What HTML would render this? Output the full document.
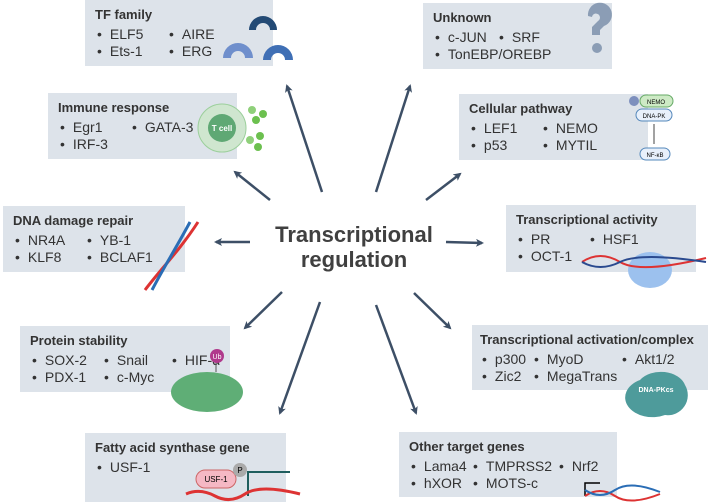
<!DOCTYPE html>
<html><head><meta charset="utf-8"><style>
body{margin:0;width:708px;height:502px;background:#fff;position:relative;overflow:hidden;font-family:"Liberation Sans",sans-serif;color:#333}
.b{position:absolute;background:#dde3ea;box-sizing:border-box;padding:7px 10px}
.h{font-weight:bold;font-size:13px;margin-bottom:4px;color:#333;white-space:nowrap}
.r{font-size:14px;line-height:17px;white-space:nowrap}
.r span{display:inline-block}
.r span:before{content:"•";margin-right:8px;margin-left:2px}
svg{position:absolute;left:0;top:0}
.t{position:absolute;left:237px;top:222px;width:234px;text-align:center;font-weight:bold;font-size:22px;line-height:25px;color:#404040}
</style></head><body>
<div class="b" style="left:85px;top:0;width:188px;height:66px">
<div class="h">TF family</div>
<div class="r"><span style="width:72px">ELF5</span><span>AIRE</span></div>
<div class="r"><span style="width:72px">Ets-1</span><span>ERG</span></div></div>
<div class="b" style="left:48px;top:93px;width:189px;height:66px">
<div class="h">Immune response</div>
<div class="r"><span style="width:72px">Egr1</span><span>GATA-3</span></div>
<div class="r"><span>IRF-3</span></div></div>
<div class="b" style="left:3px;top:206px;width:182px;height:66px">
<div class="h">DNA damage repair</div>
<div class="r"><span style="width:72px">NR4A</span><span>YB-1</span></div>
<div class="r"><span style="width:72px">KLF8</span><span>BCLAF1</span></div></div>
<div class="b" style="left:20px;top:326px;width:210px;height:66px">
<div class="h">Protein stability</div>
<div class="r"><span style="width:72px">SOX-2</span><span style="width:68px">Snail</span><span>HIF-α</span></div>
<div class="r"><span style="width:72px">PDX-1</span><span>c-Myc</span></div></div>
<div class="b" style="left:85px;top:433px;width:201px;height:69px">
<div class="h">Fatty acid synthase gene</div>
<div class="r"><span>USF-1</span></div></div>
<div class="b" style="left:423px;top:3px;width:189px;height:66px">
<div class="h">Unknown</div>
<div class="r"><span style="width:64px">c-JUN</span><span>SRF</span></div>
<div class="r"><span>TonEBP/OREBP</span></div></div>
<div class="b" style="left:459px;top:94px;width:189px;height:66px">
<div class="h">Cellular pathway</div>
<div class="r"><span style="width:72px">LEF1</span><span>NEMO</span></div>
<div class="r"><span style="width:72px">p53</span><span>MYTIL</span></div></div>
<div class="b" style="left:506px;top:205px;width:190px;height:67px">
<div class="h">Transcriptional activity</div>
<div class="r"><span style="width:72px">PR</span><span>HSF1</span></div>
<div class="r"><span>OCT-1</span></div></div>
<div class="b" style="left:472px;top:325px;width:236px;height:65px;padding-left:8px">
<div class="h">Transcriptional activation/complex</div>
<div class="r"><span style="width:52px">p300</span><span style="width:88px">MyoD</span><span>Akt1/2</span></div>
<div class="r"><span style="width:52px">Zic2</span><span>MegaTrans</span></div></div>
<div class="b" style="left:399px;top:432px;width:218px;height:65px">
<div class="h">Other target genes</div>
<div class="r"><span style="width:62px">Lama4</span><span style="width:86px">TMPRSS2</span><span>Nrf2</span></div>
<div class="r"><span style="width:62px">hXOR</span><span>MOTS-c</span></div></div>
<div class="t">Transcriptional<br>regulation</div>
<svg width="708" height="502">
<defs><marker id="a" markerWidth="8" markerHeight="8" refX="6" refY="4" orient="auto" markerUnits="userSpaceOnUse"><path d="M0,0 L8,4 L0,8 L2,4z" fill="#3d4f66"/></marker></defs>
<g stroke="#3d4f66" stroke-width="2.5" fill="none" marker-end="url(#a)">
<line x1="322" y1="192" x2="287" y2="86"/>
<line x1="270" y1="200" x2="235" y2="172"/>
<line x1="250" y1="242" x2="216" y2="242"/>
<line x1="282" y1="292" x2="245" y2="328"/>
<line x1="320" y1="302" x2="280" y2="413"/>
<line x1="376" y1="192" x2="410" y2="86"/>
<line x1="426" y1="200" x2="460" y2="174"/>
<line x1="446" y1="242" x2="482" y2="243"/>
<line x1="414" y1="293" x2="450" y2="328"/>
<line x1="376" y1="305" x2="416" y2="413"/>
</g>
<g>
<path d="M249,30 a14,14 0 0 1 28,0 l-7,0 a7,7 0 0 0 -14,0z" fill="#234a75"/>
<path d="M223,58 a15,15 0 0 1 30,0 l-8,0 a7,7 0 0 0 -14,0z" fill="#6f8fcc"/>
<path d="M263,60 a15,15 0 0 1 30,0 l-8,0 a7,7 0 0 0 -14,0z" fill="#3f6fb5"/>
<circle cx="222" cy="128" r="24" fill="#cfe6cf" stroke="#9bcf9b"/>
<circle cx="222" cy="128" r="14" fill="#5fa874"/>
<text x="222" y="131" font-size="8" fill="#fff" text-anchor="middle" font-weight="bold" font-family="Liberation Sans">T cell</text>
<circle cx="252" cy="110" r="4" fill="#8fd07a"/><circle cx="263" cy="114" r="4" fill="#6cc04f"/><circle cx="256" cy="120" r="4" fill="#6cc04f"/>
<circle cx="260" cy="136" r="4" fill="#6cc04f"/><circle cx="250" cy="140" r="4" fill="#8fd07a"/><circle cx="258" cy="147" r="4" fill="#6cc04f"/>
<path d="M145,290 C160,270 180,250 198,222" stroke="#d33" stroke-width="3" fill="none"/>
<path d="M152,290 C165,265 175,250 190,222" stroke="#2a6db5" stroke-width="3" fill="none"/>
<ellipse cx="207" cy="392" rx="36" ry="20" fill="#5fae76"/>
<line x1="216" y1="372" x2="216" y2="360" stroke="#555"/>
<circle cx="217" cy="356" r="7" fill="#b03a8c"/>
<text x="217" y="359" font-size="7" fill="#fff" text-anchor="middle" font-family="Liberation Sans">Ub</text>
<rect x="196" y="470" width="40" height="18" rx="9" fill="#f5b8c4" stroke="#c66"/>
<text x="216" y="482" font-size="8" text-anchor="middle" font-family="Liberation Sans">USF-1</text>
<circle cx="240" cy="470" r="7" fill="#aaa"/><text x="240" y="473" font-size="8" text-anchor="middle" font-family="Liberation Sans">P</text>
<path d="M248,496 L248,472 L290,472" stroke="#1f5e5e" stroke-width="2" fill="none"/>
<path d="M186,494 Q200,488 215,496 T245,494 T300,494" stroke="#d33" stroke-width="3" fill="none"/>
<path d="M588,16 a12,12 0 1 1 16,10 l-4,4 v5 h-8 v-8 l6,-6 a4,4 0 1 0 -6,-4z" fill="#8b9db5"/>
<circle cx="597" cy="48" r="5" fill="#8b9db5"/>
<ellipse cx="650" cy="270" rx="22" ry="18" fill="#9cc1ee"/>
<path d="M582,262 Q600,250 620,262 T706,258" stroke="#d33" stroke-width="2" fill="none"/>
<path d="M582,262 Q600,272 620,262 T706,262" stroke="#2a4a8f" stroke-width="2" fill="none"/>
<path d="M640,380 a25,18 0 0 1 45,5 a20,20 0 0 1 -20,30 a25,18 0 0 1 -25,-35z" fill="#4e9b9b"/>
<text x="656" y="392" font-size="7" fill="#fff" text-anchor="middle" font-weight="bold" font-family="Liberation Sans">DNA-PKcs</text>
<path d="M585,496 L585,483 L600,483" stroke="#000" stroke-width="1.5" fill="none"/>
<path d="M585,496 Q600,486 615,496 T660,494" stroke="#d33" stroke-width="2" fill="none"/>
<path d="M585,490 Q600,500 615,490 T660,492" stroke="#2a6db5" stroke-width="2" fill="none"/>
<rect x="640" y="95" width="33" height="12" rx="6" fill="#cdeac5" stroke="#6a6"/>
<text x="656" y="104" font-size="6" text-anchor="middle" font-family="Liberation Sans">NEMO</text>
<circle cx="634" cy="101" r="5" fill="#7d8fbd"/>
<rect x="636" y="109" width="36" height="12" rx="6" fill="#e8f0fb" stroke="#58b"/>
<text x="654" y="118" font-size="6" text-anchor="middle" font-family="Liberation Sans">DNA-PK</text>
<line x1="654" y1="124" x2="654" y2="144" stroke="#444"/>
<rect x="640" y="148" width="30" height="12" rx="6" fill="#e8f0fb" stroke="#58b"/>
<text x="655" y="157" font-size="6" text-anchor="middle" font-family="Liberation Sans">NF-κB</text>
</g>
</svg>
</body></html>
